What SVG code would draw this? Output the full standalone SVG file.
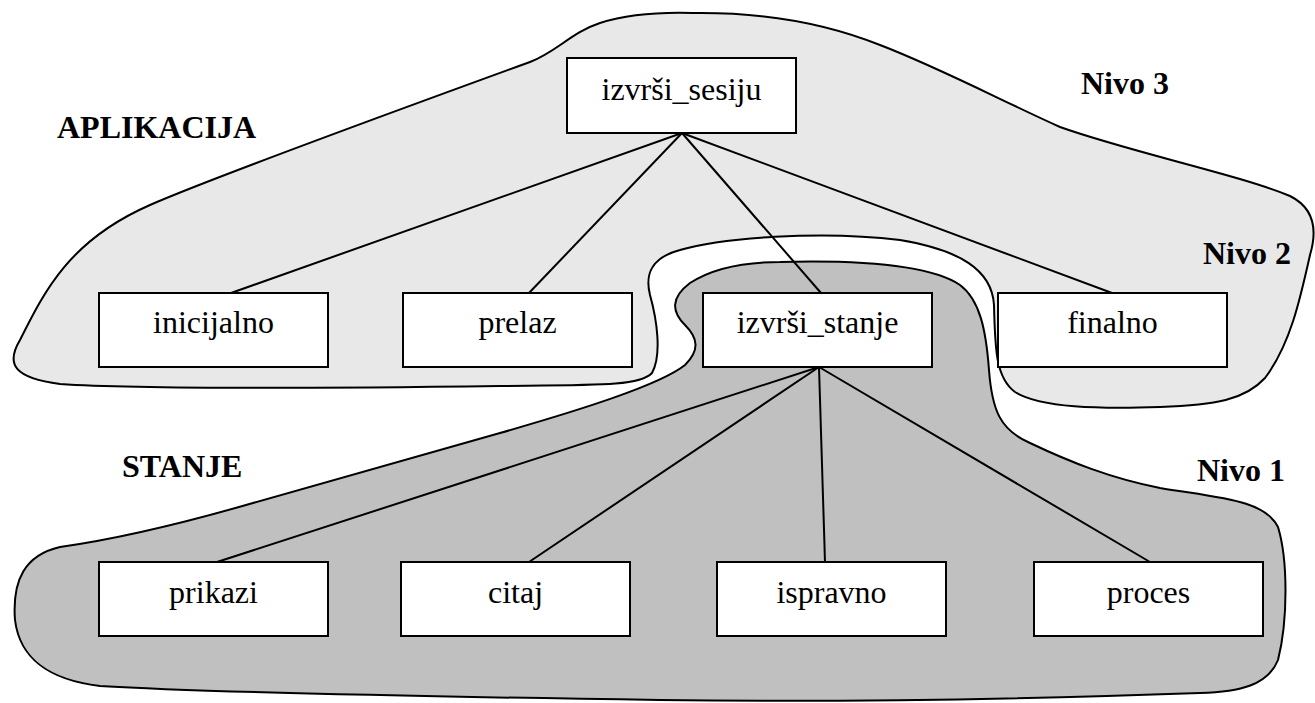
<svg xmlns="http://www.w3.org/2000/svg" width="1315" height="703" viewBox="0 0 1315 703">
  <style>
    .region { stroke: #000; stroke-width: 2; }
    .app { fill: #e8e8e8; }
    .state { fill: #c0c0c0; }
    .box { fill: #fff; stroke: #000; stroke-width: 2; }
    .lbl { font-size: 32px; fill: #000; text-anchor: middle; }
    .lvl { font-size: 32px; font-weight: bold; fill: #000; }
    .edge { stroke: #000; stroke-width: 2; fill: none; }
  </style>
  <rect width="1315" height="703" fill="#fff"/>

  <!-- application-level region (levels 2 and 3) -->
  <path id="region-aplikacija" class="region app" d="M 693,13
    C 770,12 830,25 880,45
    C 940,68 1000,100 1060,127
    C 1130,152 1240,175 1290,196
    C 1318,210 1316,235 1310,255
    C 1300,300 1290,345 1265,378
    C 1245,400 1215,405 1160,407
    C 1100,409 1040,408 1015,392
    C 996,378 995,350 994,305
    C 992,270 960,250 900,240
    C 820,230 720,238 680,250
    C 650,258 645,275 650,295
    C 657,320 662,355 652,373
    C 640,386 600,385 500,386
    C 350,388 150,390 60,384
    C 15,378 5,365 20,340
    C 45,290 70,240 150,205
    C 200,183 420,102 530,62
    C 555,53 572,32 600,23
    C 625,15 660,12 693,13 Z"/>

  <!-- state-level region (level 1) -->
  <path id="region-stanje" class="region state" d="M 780,262
    C 860,260 930,265 960,285
    C 980,300 986,330 989,370
    C 992,410 1000,430 1030,443
    C 1070,462 1110,478 1160,488
    C 1220,498 1265,500 1278,527
    C 1288,560 1288,620 1278,660
    C 1268,685 1240,692 1200,693
    C 1000,700 800,702 660,700
    C 450,697 200,692 100,686
    C 50,680 20,660 15,620
    C 12,580 25,555 60,547
    C 110,540 170,527 253,503
    L 500,433
    C 580,410 660,385 685,365
    C 700,350 698,338 685,325
    C 672,312 670,298 690,283
    C 710,270 740,262 780,262 Z"/>

  <!-- connectors -->
  <g id="connectors">
    <line class="edge" x1="682" y1="133" x2="231" y2="293"/>
    <line class="edge" x1="682" y1="133" x2="529" y2="293"/>
    <line class="edge" x1="682" y1="133" x2="821" y2="293"/>
    <line class="edge" x1="682" y1="133" x2="1112" y2="293"/>
    <line class="edge" x1="819" y1="367" x2="217" y2="562"/>
    <line class="edge" x1="819" y1="367" x2="529" y2="562"/>
    <line class="edge" x1="819" y1="367" x2="825" y2="562"/>
    <line class="edge" x1="819" y1="367" x2="1150" y2="562"/>
  </g>

  <g font-family="'Liberation Serif', 'Times New Roman', 'DejaVu Serif', serif">
    <!-- level 3 -->
    <g id="node-izvrsi-sesiju">
      <rect class="box" x="567" y="58" width="229" height="75"/>
      <text class="lbl" x="681.5" y="100">izvrši_sesiju</text>
    </g>

    <!-- level 2 -->
    <g id="node-inicijalno">
      <rect class="box" x="99" y="293" width="229" height="74"/>
      <text class="lbl" x="213.5" y="333">inicijalno</text>
    </g>
    <g id="node-prelaz">
      <rect class="box" x="403" y="293" width="229" height="74"/>
      <text class="lbl" x="517.5" y="333">prelaz</text>
    </g>
    <g id="node-izvrsi-stanje">
      <rect class="box" x="703" y="293" width="229" height="74"/>
      <text class="lbl" x="817.5" y="333">izvrši_stanje</text>
    </g>
    <g id="node-finalno">
      <rect class="box" x="998" y="293" width="229" height="74"/>
      <text class="lbl" x="1112.5" y="333">finalno</text>
    </g>

    <!-- level 1 -->
    <g id="node-prikazi">
      <rect class="box" x="99" y="562" width="229" height="74"/>
      <text class="lbl" x="213.5" y="603">prikazi</text>
    </g>
    <g id="node-citaj">
      <rect class="box" x="401" y="562" width="229" height="74"/>
      <text class="lbl" x="515.5" y="603">citaj</text>
    </g>
    <g id="node-ispravno">
      <rect class="box" x="717" y="562" width="229" height="74"/>
      <text class="lbl" x="831.5" y="603">ispravno</text>
    </g>
    <g id="node-proces">
      <rect class="box" x="1034" y="562" width="229" height="74"/>
      <text class="lbl" x="1148.5" y="603">proces</text>
    </g>

    <!-- region and level captions -->
    <g id="captions">
      <text class="lvl" x="57" y="138">APLIKACIJA</text>
      <text class="lvl" x="122" y="477">STANJE</text>
      <text class="lvl" x="1081" y="94">Nivo 3</text>
      <text class="lvl" x="1203" y="264">Nivo 2</text>
      <text class="lvl" x="1197" y="481">Nivo 1</text>
    </g>
  </g>
</svg>
